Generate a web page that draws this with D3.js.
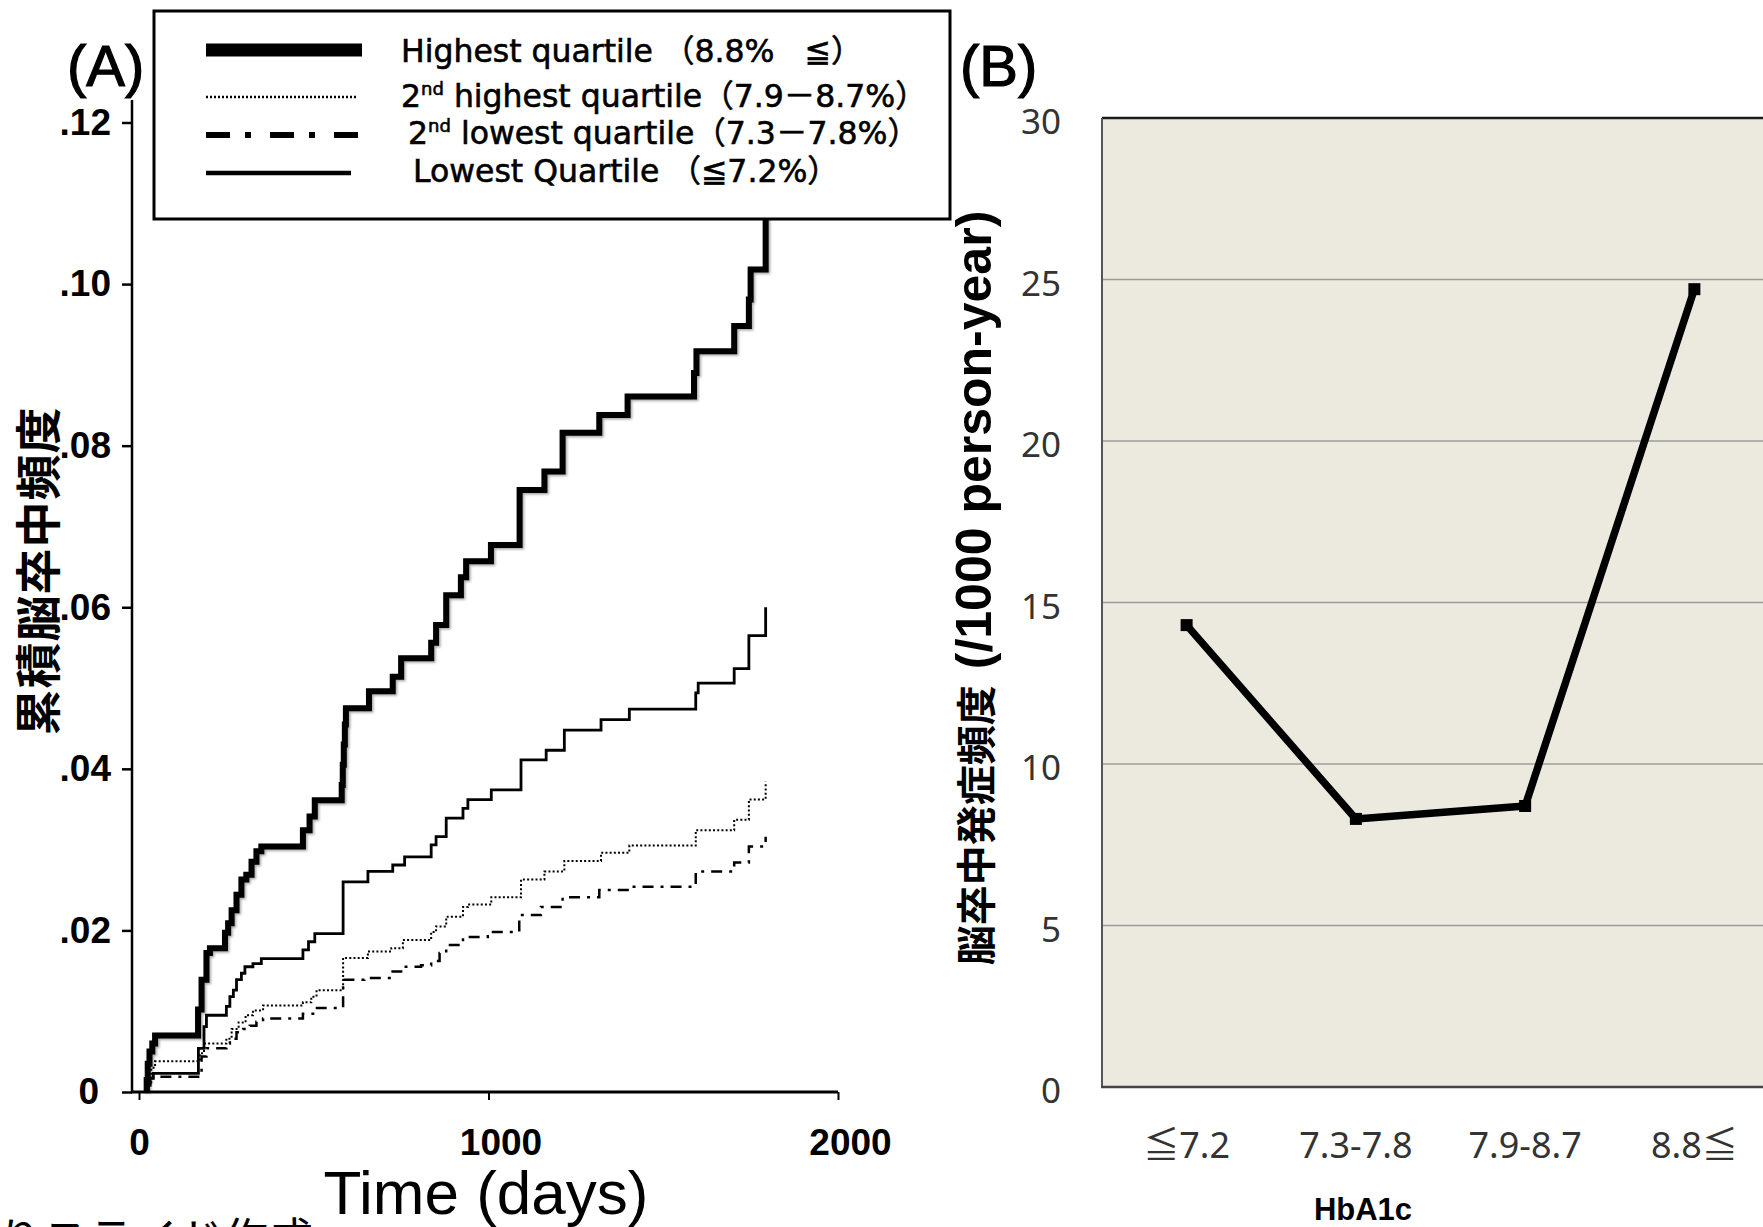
<!DOCTYPE html>
<html>
<head>
<meta charset="utf-8">
<script src="https://cdn.jsdelivr.net/npm/d3@7"></script>
<style>
  body { margin: 0; background: #fff; }
  svg { display: block; }
</style>
</head>
<body>
<svg id="chart" width="1763" height="1227"></svg>
<script>
// ---- panel A: cumulative stroke incidence, [day, value] step points ----
var highestQ = [[22,0],[22,0.0015],[25,0.0035],[30,0.0050],[38,0.0060],[46,0.0070],[169,0.0102],[179,0.0139],
  [193,0.0172],[203,0.0178],[246,0.0197],[255,0.0209],[265,0.0225],[279,0.0244],[293,0.0263],[307,0.0269],
  [322,0.0285],[336,0.0298],[350,0.0304],[469,0.0324],[488,0.0341],[503,0.0361],[580,0.0380],[583,0.0405],
  [586,0.0430],[589,0.0455],[592,0.0475],[658,0.0496],[726,0.0514],[750,0.0537],[836,0.0556],[850,0.0578],
  [879,0.0615],[921,0.0637],[936,0.0657],[1007,0.0677],[1089,0.0745],[1160,0.0768],[1212,0.0816],[1317,0.0838],
  [1398,0.0861],[1588,0.0890],[1595,0.0917],[1703,0.0948],[1745,0.0981],[1750,0.1018],[1793,0.1115]];

var secondHighestQ = [[24,0],[24,0.0012],[35,0.0030],[46,0.0038],[174,0.0048],[186,0.0060],[250,0.0066],
  [265,0.0078],[285,0.0086],[305,0.0095],[326,0.0101],[355,0.0107],[469,0.0111],[493,0.0118],[508,0.0126],
  [584,0.0166],[655,0.0174],[722,0.0178],[755,0.0188],[836,0.0198],[850,0.0205],[879,0.0217],[927,0.0229],
  [941,0.0232],[1008,0.0241],[1093,0.0263],[1160,0.0273],[1217,0.0286],[1322,0.0296],[1403,0.0305],
  [1593,0.0324],[1703,0.0337],[1745,0.0362],[1793,0.0384]];

var secondLowestQ = [[25,0],[25,0.0008],[32,0.0015],[40,0.0019],[179,0.0044],[193,0.0054],[250,0.0060],
  [260,0.0066],[279,0.0074],[298,0.0078],[317,0.0082],[336,0.0087],[355,0.0091],[469,0.0097],[503,0.0104],
  [584,0.0139],[645,0.0141],[722,0.0149],[755,0.0155],[807,0.0157],[836,0.0162],[860,0.0172],[879,0.0182],
  [927,0.0192],[998,0.0198],[1088,0.0219],[1150,0.0229],[1212,0.0241],[1317,0.0250],[1398,0.0254],
  [1593,0.0273],[1703,0.0284],[1745,0.0304],[1793,0.0316]];

var lowestQ = [[27,0],[27,0.0010],[32,0.0017],[41,0.0023],[170,0.0054],[186,0.0081],[193,0.0095],[250,0.0106],
  [260,0.0118],[270,0.0126],[279,0.0139],[293,0.0147],[303,0.0155],[326,0.0159],[350,0.0165],[469,0.0176],
  [485,0.0186],[503,0.0196],[584,0.0260],[655,0.0273],[726,0.0281],[760,0.0291],[836,0.0306],[850,0.0316],
  [879,0.0339],[927,0.0351],[941,0.0362],[1008,0.0374],[1093,0.0411],[1165,0.0423],[1217,0.0448],
  [1322,0.0461],[1403,0.0474],[1593,0.0494],[1600,0.0506],[1703,0.0524],[1745,0.0565],[1793,0.0600]];

var xTicksA = [0, 1000, 2000];
var yTicksA = [0, 0.02, 0.04, 0.06, 0.08, 0.10, 0.12];
var yTickLabelsA = ["0", ".02", ".04", ".06", ".08", ".10", ".12"];
var legendLabels = [
  "Highest quartile （8.8%   ≦）",
  "2nd highest quartile（7.9－8.7%）",
  "2nd lowest quartile（7.3－7.8%）",
  "Lowest Quartile （≦7.2%）"
];

// ---- panel B: incidence per 1000 person-years by HbA1c group ----
var hba1cGroups = ["≦7.2", "7.3-7.8", "7.9-8.7", "8.8≦"];
var strokeRate = [14.3, 8.3, 8.7, 24.7];
var yTicksB = [0, 5, 10, 15, 20, 25, 30];

var svg = d3.select("#chart");
var latin = "'Liberation Sans', Arial, 'Noto Sans CJK JP', sans-serif";
var jp = "'Noto Sans CJK JP', sans-serif";

var defs = svg.append("defs");
defs.append("filter").attr("id", "shadow")
  .attr("x", "-5%").attr("y", "-5%").attr("width", "110%").attr("height", "110%")
  .append("feDropShadow")
    .attr("dx", 1.5).attr("dy", 1.5).attr("stdDeviation", 1.2)
    .attr("flood-color", "#000").attr("flood-opacity", 0.35);

// ================= panel A =================
var xA = d3.scaleLinear().domain([0, 2000]).range([139, 838]);
var yA = d3.scaleLinear().domain([0, 0.12]).range([1092, 122.5]);

var gA = svg.append("g");

var yAxisA = gA.append("g")
    .attr("transform", "translate(132,0)")
    .call(d3.axisLeft(yA)
      .tickValues(yTicksA)
      .tickFormat((d, i) => yTickLabelsA[i])
      .tickSize(10)
      .tickPadding(11));
yAxisA.select(".domain").remove();
yAxisA.selectAll(".tick line").attr("stroke", "#000").attr("stroke-width", 2.5);
yAxisA.selectAll(".tick text")
    .attr("font-family", latin).attr("font-size", 37).attr("font-weight", "bold").attr("fill", "#000")
    .attr("dx", d => d === 0 ? -12 : 0);

gA.append("line")
    .attr("x1", 132).attr("x2", 132)
    .attr("y1", 100).attr("y2", 1093)
    .attr("stroke", "#000").attr("stroke-width", 2.5);

var xAxisA = gA.append("g")
    .attr("transform", "translate(0,1092)")
    .call(d3.axisBottom(xA)
      .tickValues(xTicksA)
      .tickFormat(d3.format("d"))
      .tickSize(8)
      .tickPadding(29));
xAxisA.select(".domain").remove();
xAxisA.selectAll(".tick line").attr("stroke", "#000").attr("stroke-width", 2);
xAxisA.selectAll(".tick text")
    .attr("font-family", latin).attr("font-size", 37).attr("font-weight", "bold").attr("fill", "#000")
    .attr("dx", d => d === 0 ? 0 : 12);

gA.append("line")
    .attr("x1", 131).attr("x2", 838)
    .attr("y1", 1092).attr("y2", 1092)
    .attr("stroke", "#000").attr("stroke-width", 3);

var stepLine = d3.line()
    .x(d => xA(d[0]))
    .y(d => yA(d[1]))
    .curve(d3.curveStepAfter);

var seriesA = [
  { data: secondHighestQ, width: 2, dash: "2,2.2" },
  { data: secondLowestQ, width: 2.5, dash: "11,7,3,7" },
  { data: lowestQ, width: 2.8, dash: null },
  { data: highestQ, width: 6, dash: null, shadow: true }
];

seriesA.forEach(s => {
  gA.append("path")
    .attr("fill", "none")
    .attr("stroke", "#000")
    .attr("stroke-width", s.width)
    .attr("stroke-linejoin", "miter")
    .attr("stroke-dasharray", s.dash)
    .attr("filter", s.shadow ? "url(#shadow)" : null)
    .attr("d", stepLine(s.data));
});

gA.append("text")
    .attr("x", 486).attr("y", 1214)
    .attr("text-anchor", "middle")
    .attr("font-family", latin).attr("font-size", 62)
    .text("Time (days)");

gA.append("text")
    .attr("transform", "translate(55,571) rotate(-90)")
    .attr("text-anchor", "middle")
    .attr("font-family", jp).attr("font-size", 46).attr("font-weight", "bold")
    .attr("letter-spacing", 1)
    .text("累積脳卒中頻度");

gA.append("text")
    .attr("x", 67).attr("y", 86)
    .attr("font-family", latin).attr("font-size", 58)
    .attr("stroke", "#000").attr("stroke-width", 1.2)
    .text("(A)");

// legend
var legend = svg.append("g");
legend.append("rect")
    .attr("x", 154).attr("y", 11)
    .attr("width", 796).attr("height", 208)
    .attr("fill", "#fff").attr("stroke", "#000").attr("stroke-width", 3);

var legendKeys = [
  { y: 50, x2: 362, width: 13, dash: null },
  { y: 97, x2: 356, width: 2.5, dash: "2,2" },
  { y: 135, x2: 358, width: 6, dash: "24,15,6,19" },
  { y: 173, x2: 351, width: 4.5, dash: null }
];
var legendText = [
  { x: 401, y: 62 },
  { x: 401, y: 107 },
  { x: 408, y: 144 },
  { x: 413, y: 182 }
];

legendKeys.forEach((k, i) => {
  legend.append("line")
    .attr("x1", 206).attr("x2", k.x2)
    .attr("y1", k.y).attr("y2", k.y)
    .attr("stroke", "#000").attr("stroke-width", k.width)
    .attr("stroke-dasharray", k.dash);

  var label = legendLabels[i];
  var t = legend.append("text")
    .attr("x", legendText[i].x).attr("y", legendText[i].y)
    .attr("font-family", "'DejaVu Sans', 'Noto Sans CJK JP', sans-serif")
    .attr("font-size", 31.5)
    .attr("fill", "#000").attr("stroke", "#000").attr("stroke-width", 0.6)
    .style("white-space", "pre");
  if (label.indexOf("2nd") === 0) {
    t.append("tspan").text("2");
    t.append("tspan").attr("font-size", 18).attr("dy", -12).text("nd");
    t.append("tspan").attr("dy", 12).text(label.slice(3));
  } else {
    t.text(label);
  }
});

// ================= panel B =================
var xB = d3.scalePoint().domain(hba1cGroups).range([1102, 1779]).padding(0.5);
var yB = d3.scaleLinear().domain([0, 30]).range([1087, 118]);

var gB = svg.append("g");

gB.append("rect")
    .attr("x", 1102).attr("y", yB(30))
    .attr("width", 677).attr("height", yB(0) - yB(30))
    .attr("fill", "#ECE9DF");

gB.selectAll(".grid")
  .data(yTicksB.filter(d => d > 0 && d < 30))
  .enter().append("line")
    .attr("class", "grid")
    .attr("x1", 1102).attr("x2", 1779)
    .attr("y1", d => yB(d)).attr("y2", d => yB(d))
    .attr("stroke", "#9c9c9c").attr("stroke-width", 1.5);

gB.append("line")
    .attr("x1", 1102).attr("x2", 1779)
    .attr("y1", yB(30)).attr("y2", yB(30))
    .attr("stroke", "#1a1a1a").attr("stroke-width", 2.5);
gB.append("line")
    .attr("x1", 1102).attr("x2", 1102)
    .attr("y1", yB(30)).attr("y2", yB(0))
    .attr("stroke", "#555").attr("stroke-width", 2);
gB.append("line")
    .attr("x1", 1101).attr("x2", 1779)
    .attr("y1", yB(0)).attr("y2", yB(0))
    .attr("stroke", "#444").attr("stroke-width", 2.5);

var yAxisB = gB.append("g")
    .attr("transform", "translate(1102,0)")
    .call(d3.axisLeft(yB).tickValues(yTicksB).tickSize(0).tickPadding(41));
yAxisB.select(".domain").remove();
yAxisB.selectAll(".tick text")
    .attr("font-family", "'Noto Sans', sans-serif").attr("font-size", 35).attr("fill", "#333")
    .attr("dy", "0.45em");

gB.selectAll(".xlab")
  .data(hba1cGroups)
  .enter().append("text")
    .attr("class", "xlab")
    .attr("x", d => xB(d)).attr("y", 1158)
    .attr("text-anchor", "middle")
    .attr("font-family", "'Noto Sans', 'Noto Sans CJK JP', sans-serif")
    .attr("font-size", 36).attr("fill", "#333")
    .text(d => d);

var rateLine = d3.line()
    .x((d, i) => xB(hba1cGroups[i]))
    .y(d => yB(d));

gB.append("path")
    .attr("fill", "none").attr("stroke", "#000").attr("stroke-width", 7.5)
    .attr("stroke-linejoin", "round")
    .attr("d", rateLine(strokeRate));

gB.selectAll(".pt")
  .data(strokeRate)
  .enter().append("rect")
    .attr("class", "pt")
    .attr("x", (d, i) => xB(hba1cGroups[i]) - 6)
    .attr("y", d => yB(d) - 6)
    .attr("width", 12).attr("height", 12)
    .attr("fill", "#000");

gB.append("text")
    .attr("x", 1363).attr("y", 1220)
    .attr("text-anchor", "middle")
    .attr("font-family", latin).attr("font-size", 31).attr("font-weight", "bold")
    .text("HbA1c");

var yLabB = gB.append("text")
    .attr("transform", "translate(991,588) rotate(-90)")
    .attr("text-anchor", "middle")
    .attr("font-weight", "bold");
yLabB.append("tspan")
    .attr("font-family", jp).attr("font-size", 40)
    .text("脳卒中発症頻度");
yLabB.append("tspan")
    .attr("dx", 16)
    .attr("font-family", latin).attr("font-size", 50)
    .text("(/1000 person-year)");

gB.append("text")
    .attr("x", 960).attr("y", 86)
    .attr("font-family", latin).attr("font-size", 58)
    .attr("stroke", "#000").attr("stroke-width", 1.2)
    .text("(B)");

// slide caption cut off at the bottom edge
svg.append("text")
    .attr("x", -46).attr("y", 1256)
    .attr("font-family", jp).attr("font-size", 45)
    .text("よりスライド作成");
</script>
</body>
</html>
